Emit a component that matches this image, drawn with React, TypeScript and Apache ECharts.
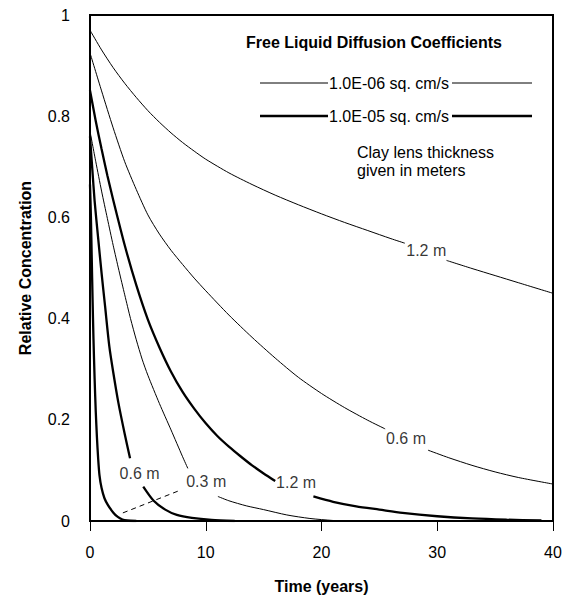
import React, { useEffect, useRef } from "react";
import * as echarts from "echarts";

// Axis ticks
const xTickValues = [0, 10, 20, 30, 40];
const yTickValues = [0, 0.2, 0.4, 0.6, 0.8, 1];

// Free liquid diffusion coefficient 1.0E-06 sq. cm/s (thin curves)
const thin12A = [[0,0.97],[1,0.931],[2,0.896],[3,0.865],[4,0.837],[5,0.811],[6,0.788],[7,0.767],[8,0.748],[9,0.731],[10,0.715],[12,0.688],[14,0.665],[16,0.644],[18,0.625],[20,0.607],[22,0.59],[24,0.574],[26,0.558],[27.2,0.549]];
const thin12B = [[30.8,0.515],[33,0.499],[35,0.485],[37,0.471],[40,0.45]];
const thin06A = [[0,0.925],[1,0.85],[2,0.777],[3,0.71],[4,0.655],[5,0.605],[6,0.567],[7,0.535],[8,0.507],[9,0.48],[10,0.455],[12,0.407],[14,0.363],[16,0.322],[18,0.284],[20,0.252],[22,0.224],[24,0.199],[25.5,0.182]];
const thin06B = [[29.2,0.14],[31,0.125],[33,0.11],[35,0.097],[37,0.086],[40,0.073]];
const thin03A = [[0,0.77],[0.5,0.71],[1,0.652],[1.5,0.598],[2,0.545],[2.5,0.495],[3,0.447],[3.5,0.4],[4,0.358],[4.5,0.32],[5,0.288],[6,0.232],[7,0.18],[8,0.127],[8.45,0.104]];
const thin03B = [[11.05,0.0485],[12,0.04],[13.5,0.03],[15,0.0225],[17,0.012],[19,0.005],[21,0.001],[22,0]];

// Free liquid diffusion coefficient 1.0E-05 sq. cm/s (thick curves)
const thick12A = [[0,0.851],[0.5,0.79],[1,0.735],[1.5,0.683],[2,0.635],[3,0.545],[4,0.466],[5,0.398],[6,0.343],[7,0.295],[8,0.255],[9,0.222],[10,0.193],[11,0.168],[12,0.147],[13,0.128],[14,0.11],[15,0.094],[16,0.079]];
const thick12B = [[19.3,0.0485],[21,0.038],[23,0.029],[25,0.0225],[27,0.016],[30,0.0094],[33,0.005],[36,0.0025],[39,0.001]];
const thick06A = [[0,0.76],[0.2,0.695],[0.4,0.632],[0.7,0.56],[1,0.49],[1.3,0.425],[1.67,0.345],[2,0.295],[2.45,0.234],[3,0.172],[3.46,0.124]];
const thick06B = [[4.6,0.068],[5.5,0.04],[6.5,0.0225],[7.5,0.012],[8.8,0.006],[10.5,0.002],[12.5,0]];
const thick03 = [[0,0.665],[0.08,0.6],[0.15,0.52],[0.22,0.44],[0.3,0.36],[0.4,0.28],[0.5,0.215],[0.6,0.165],[0.7,0.125],[0.82,0.09],[1,0.065],[1.25,0.045],[1.54,0.032],[2,0.017],[2.4,0.008],[2.8,0.003],[3.2,0.001],[4,0]];
const leader03 = [[2.84,0.016],[7.88,0.0616]];

// Curve labels (thickness in meters)
const labelNames = ["1.2 m", "0.6 m", "1.2 m", "0.3 m", "0.6 m"];
const labelX = [29.05, 27.3, 17.8, 10.04, 4.28];
const labelY = [0.534, 0.163, 0.077, 0.078, 0.094];

const legendNames = ["1.0E-06 sq. cm/s", "1.0E-05 sq. cm/s"];
const legendTitle = "Free Liquid Diffusion Coefficients";
const noteLines = ["Clay lens thickness", "given in meters"];

const FONT = "'Liberation Sans', Arial, Helvetica, sans-serif";
const THIN = 1;
const THICK = 2.3;

function lineSeries(data: number[][], width: number, dashed = false) {
  return {
    type: "line",
    data,
    showSymbol: false,
    symbol: "none",
    smooth: dashed ? false : 0.25,
    silent: true,
    lineStyle: { color: "#000", width, type: dashed ? [5, 4] : "solid" },
  };
}

export default function App() {
  const ref = useRef<HTMLDivElement>(null);
  useEffect(() => {
    if (!ref.current) return;
    const chart = echarts.init(ref.current, undefined, { renderer: "svg" });
    const option = {
      animation: false,
      backgroundColor: "#fff",
      textStyle: { fontFamily: FONT },
      grid: { left: 90, right: 15, top: 15, bottom: 73, show: true, borderColor: "#000", borderWidth: 2 },
      xAxis: {
        type: "value",
        min: xTickValues[0],
        max: xTickValues[xTickValues.length - 1],
        interval: 10,
        name: "Time (years)",
        nameLocation: "middle",
        nameGap: 57,
        nameTextStyle: { fontFamily: FONT, fontSize: 16, fontWeight: "bold", color: "#000" },
        axisLine: { show: true, lineStyle: { color: "#000", width: 2 } },
        axisTick: { show: true, length: 10, lineStyle: { color: "#000", width: 1 } },
        axisLabel: { margin: 23, fontFamily: FONT, fontSize: 16, color: "#000" },
        splitLine: { show: false },
      },
      yAxis: {
        type: "value",
        min: yTickValues[0],
        max: yTickValues[yTickValues.length - 1],
        interval: 0.2,
        name: "Relative Concentration",
        nameLocation: "middle",
        nameGap: 57,
        nameTextStyle: { fontFamily: FONT, fontSize: 16, fontWeight: "bold", color: "#000" },
        axisLine: { show: true, lineStyle: { color: "#000", width: 2 } },
        axisTick: { show: false },
        axisLabel: { margin: 20, fontFamily: FONT, fontSize: 16, color: "#000" },
        splitLine: { show: false },
      },
      series: [
        lineSeries(thin12A, THIN),
        lineSeries(thin12B, THIN),
        lineSeries(thin06A, THIN),
        lineSeries(thin06B, THIN),
        lineSeries(thin03A, THIN),
        lineSeries(thin03B, THIN),
        lineSeries(thick12A, THICK),
        lineSeries(thick12B, THICK),
        lineSeries(thick06A, THICK),
        lineSeries(thick06B, THICK),
        lineSeries(thick03, THICK),
        lineSeries(leader03, THIN, true),
        {
          type: "scatter",
          silent: true,
          symbolSize: 1,
          itemStyle: { color: "rgba(0,0,0,0)" },
          data: labelNames.map((n, i) => ({ name: n, value: [labelX[i], labelY[i]] })),
          label: {
            show: true,
            position: "inside",
            formatter: (p: any) => p.name,
            fontFamily: FONT,
            fontSize: 16,
            color: "#000",
          },
        },
      ],
      graphic: [
        { type: "text", style: { text: legendTitle, x: 374, y: 42, align: "center", verticalAlign: "middle", font: `bold 16px ${FONT}`, fill: "#000" } },
        { type: "line", shape: { x1: 260, y1: 83, x2: 328, y2: 83 }, style: { stroke: "#000", lineWidth: THIN } },
        { type: "line", shape: { x1: 452, y1: 83, x2: 532, y2: 83 }, style: { stroke: "#000", lineWidth: THIN } },
        { type: "text", style: { text: legendNames[0], x: 329, y: 83, align: "left", verticalAlign: "middle", font: `16px ${FONT}`, fill: "#000" } },
        { type: "line", shape: { x1: 260, y1: 116, x2: 328, y2: 116 }, style: { stroke: "#000", lineWidth: THICK } },
        { type: "line", shape: { x1: 452, y1: 116, x2: 532, y2: 116 }, style: { stroke: "#000", lineWidth: THICK } },
        { type: "text", style: { text: legendNames[1], x: 329, y: 116, align: "left", verticalAlign: "middle", font: `16px ${FONT}`, fill: "#000" } },
        { type: "text", style: { text: noteLines[0], x: 357, y: 152, align: "left", verticalAlign: "middle", font: `16px ${FONT}`, fill: "#000" } },
        { type: "text", style: { text: noteLines[1], x: 357, y: 170, align: "left", verticalAlign: "middle", font: `16px ${FONT}`, fill: "#000" } },
      ],
    };
    chart.setOption(option as any);
    return () => chart.dispose();
  }, []);
  return <div ref={ref} style={{ position: "fixed", left: 0, top: 0, width: 568, height: 599 }} />;
}
